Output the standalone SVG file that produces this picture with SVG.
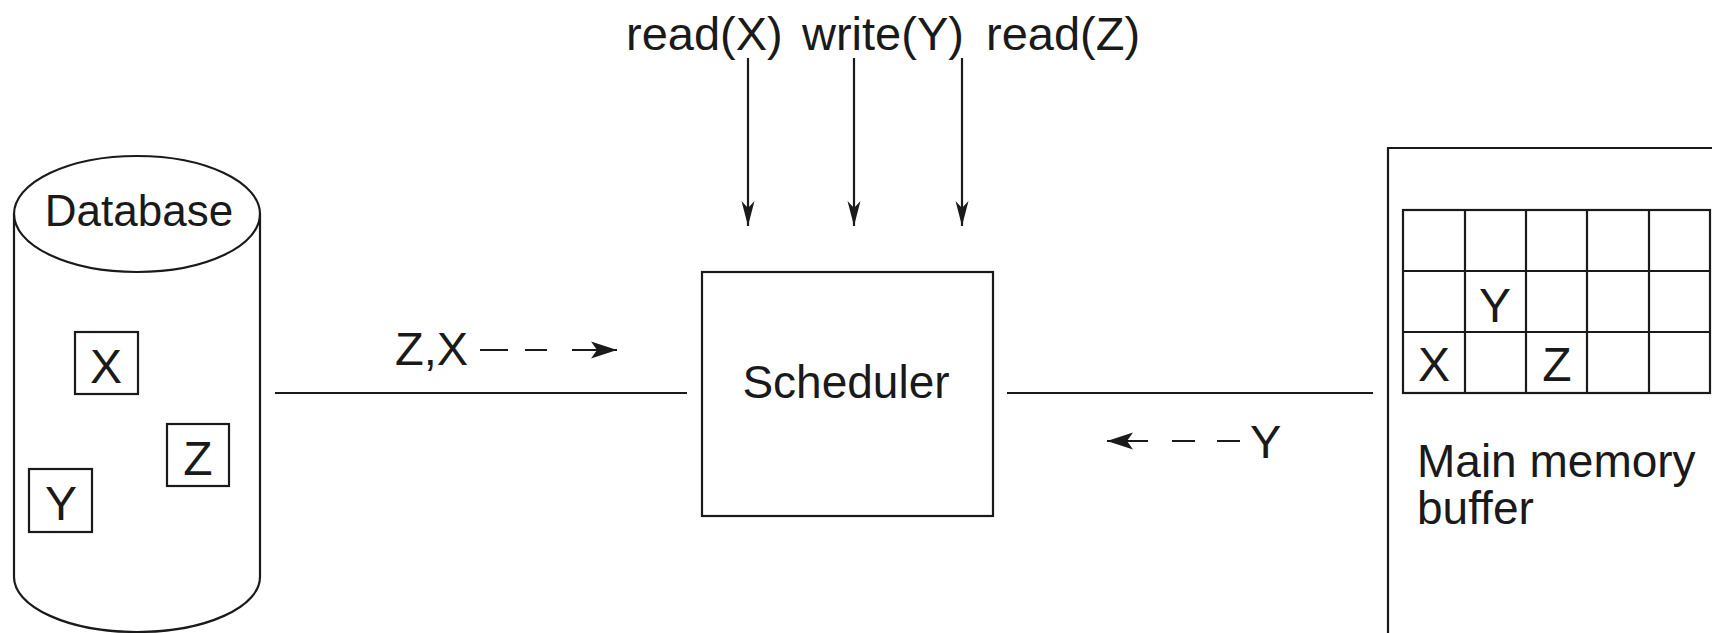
<svg xmlns="http://www.w3.org/2000/svg" width="1712" height="633" viewBox="0 0 1712 633">
  <defs>
    <style>
      .ln { fill: none; stroke: #1a1a1a; stroke-width: 2.2; }
      .txt { font-family: "Liberation Sans", Arial, sans-serif; fill: #1a1a1a; }
      .lbl { font-size: 47px; }
      .cell { font-size: 48px; text-anchor: middle; }
    </style>
    <!-- narrow barbed head for the request arrows -->
    <marker id="head" markerUnits="userSpaceOnUse" orient="auto" refX="0" refY="0" markerWidth="30" markerHeight="20" overflow="visible">
      <path d="M0,0 L-25,-6.5 L-18,0 L-25,6.5 Z" fill="#1a1a1a"/>
    </marker>
    <!-- wider head for the data-flow arrows -->
    <marker id="flow" markerUnits="userSpaceOnUse" orient="auto" refX="0" refY="0" markerWidth="30" markerHeight="24" overflow="visible">
      <path d="M0,0 L-26,-8.5 L-20,0 L-26,8.5 Z" fill="#1a1a1a"/>
    </marker>
  </defs>
  <rect width="1712" height="633" fill="#ffffff"/>

  <!-- Database cylinder with stored items -->
  <g id="database">
    <ellipse class="ln" cx="137" cy="214" rx="123" ry="58"/>
    <path class="ln" d="M14,214 L14,577 A123,55 0 0 0 260,577 L260,214"/>
    <text class="txt" x="139" y="226" font-size="44" text-anchor="middle">Database</text>
    <rect class="ln" x="75" y="332" width="63" height="62"/>
    <text class="txt cell" x="106" y="383">X</text>
    <rect class="ln" x="167" y="424" width="62" height="62"/>
    <text class="txt cell" x="198" y="475">Z</text>
    <rect class="ln" x="29" y="469" width="63" height="63"/>
    <text class="txt cell" x="61" y="520">Y</text>
  </g>

  <!-- Scheduler -->
  <g id="scheduler">
    <rect class="ln" x="702" y="272" width="291" height="244"/>
    <text class="txt" x="846" y="398" font-size="46" text-anchor="middle">Scheduler</text>
  </g>

  <!-- Main memory buffer with page grid -->
  <g id="buffer">
    <path class="ln" d="M1388,640 L1388,148 L1712,148"/>
    <rect class="ln" x="1403" y="210" width="307" height="183"/>
    <path class="ln" d="M1465,210 V393 M1526,210 V393 M1587,210 V393 M1649,210 V393 M1403,271 H1710 M1403,332 H1710"/>
    <text class="txt cell" x="1495" y="322">Y</text>
    <text class="txt cell" x="1434" y="381">X</text>
    <text class="txt cell" x="1557" y="381">Z</text>
    <text class="txt" x="1417" y="477" font-size="46">Main memory</text>
    <text class="txt" x="1417" y="524" font-size="46">buffer</text>
  </g>

  <!-- Operation requests -->
  <g id="requests">
    <text class="txt lbl" x="626" y="50">read(X)</text>
    <text class="txt lbl" x="802" y="50">write(Y)</text>
    <text class="txt lbl" x="986" y="50">read(Z)</text>
  </g>

  <!-- Connectors -->
  <g id="connectors">
    <line class="ln" x1="748" y1="58" x2="748" y2="226" marker-end="url(#head)"/>
    <line class="ln" x1="854" y1="58" x2="854" y2="226" marker-end="url(#head)"/>
    <line class="ln" x1="962" y1="58" x2="962" y2="226" marker-end="url(#head)"/>

    <line class="ln" x1="275" y1="393" x2="687" y2="393"/>
    <line class="ln" x1="1007" y1="393" x2="1373" y2="393"/>

    <!-- data flow from disk into scheduler -->
    <text class="txt lbl" x="395" y="365">Z,X</text>
    <path class="ln" d="M480,350 H508 M525,350 H547"/>
    <line class="ln" x1="572" y1="350" x2="617" y2="350" marker-end="url(#flow)"/>

    <!-- data flow from buffer back to scheduler -->
    <line class="ln" x1="1148" y1="441" x2="1107" y2="441" marker-end="url(#flow)"/>
    <path class="ln" d="M1172,441 H1195 M1217,441 H1240"/>
    <text class="txt lbl" x="1250" y="458">Y</text>
  </g>
</svg>
